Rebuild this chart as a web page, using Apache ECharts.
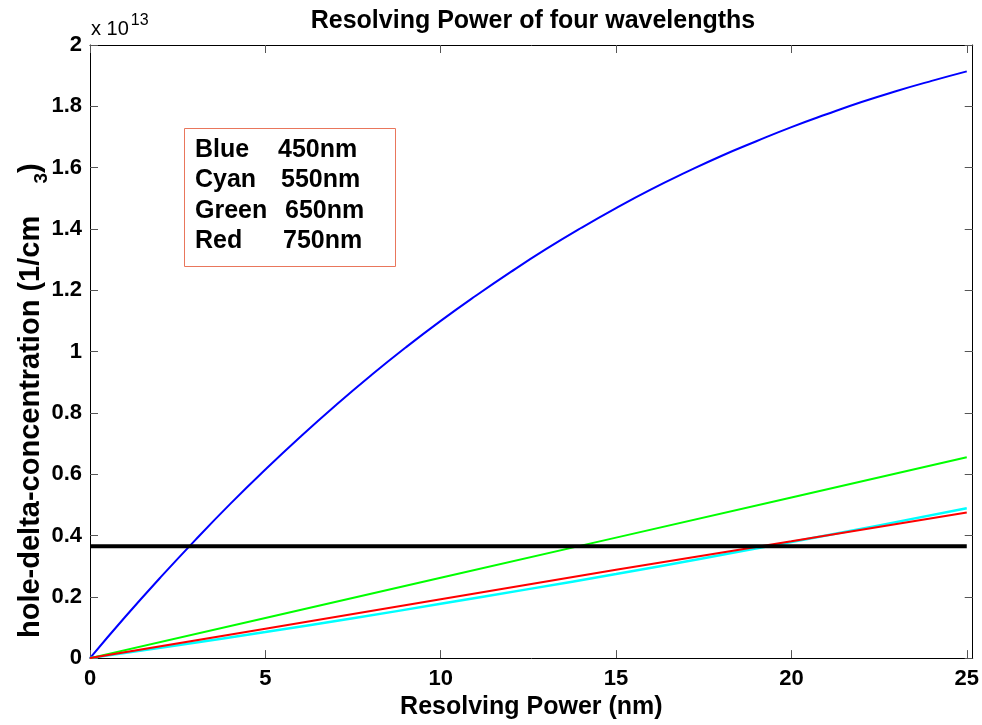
<!DOCTYPE html>
<html>
<head>
    <meta charset="utf-8">
    <title>Resolving Power of four wavelengths</title>
    <script src="https://cdn.jsdelivr.net/npm/echarts@6/dist/echarts.min.js"></script>
    <style>
        html, body { margin: 0; padding: 0; background: #fff; }
        #chart { width: 982px; height: 725px; }
    </style>
</head>
<body>
    <div id="chart"></div>
    <script type="text/javascript">
        // values in units of 1e13 (1/cm^3)
        var xBlue = [0, 1, 2, 3, 4, 5, 6, 7, 8, 9, 10, 11, 12, 13, 14, 15, 16, 17, 18, 19, 20, 21, 22, 23, 24, 25];
        var blue = [0, 0.134, 0.262, 0.385, 0.503, 0.615, 0.722, 0.824, 0.921, 1.013, 1.100, 1.182, 1.260,
                    1.334, 1.403, 1.468, 1.529, 1.585, 1.638, 1.686, 1.732, 1.774, 1.814, 1.850, 1.883, 1.914];
        var xCyan = [0, 2.5, 5, 7.5, 10, 12.5, 15, 17.5, 20, 22.5, 25];
        var cyan = [0, 0.042, 0.085, 0.130, 0.177, 0.225, 0.274, 0.326, 0.379, 0.433, 0.489];
        var xLin = [0, 5, 10, 15, 20, 25];
        var green = [0, 0.131, 0.262, 0.393, 0.524, 0.655];
        var red = [0, 0.096, 0.192, 0.288, 0.381, 0.475];
        var threshold = 0.365;
        var xTicks = [0, 5, 10, 15, 20, 25];
        var yTicks = [0, 0.2, 0.4, 0.6, 0.8, 1, 1.2, 1.4, 1.6, 1.8, 2];
        var legendNames = ['Blue', 'Cyan', 'Green', 'Red'];
        var legendWaves = ['450nm', '550nm', '650nm', '750nm'];

        function pairs(xs, ys) {
            return xs.map(function (x, i) { return [x, ys[i]]; });
        }

        var font = "'Liberation Sans', Arial, Helvetica, sans-serif";
        var waveLeft = [278, 281, 285, 283];
        var legendGraphics = [{
            type: 'rect',
            shape: { x: 184.5, y: 128.5, width: 211, height: 138 },
            style: { fill: '#fff', stroke: '#e9765c', lineWidth: 1 }
        }];
        legendNames.forEach(function (name, i) {
            var cy = 150 + i * 30.5;
            legendGraphics.push({
                type: 'text', x: 195, y: cy,
                style: { text: name, font: 'bold 25px ' + font, fill: '#000', verticalAlign: 'middle', textVerticalAlign: 'middle' }
            });
            legendGraphics.push({
                type: 'text', x: waveLeft[i], y: cy,
                style: { text: legendWaves[i], font: 'bold 25px ' + font, fill: '#000', verticalAlign: 'middle', textVerticalAlign: 'middle' }
            });
        });

        var tickStyle = { show: true, inside: true, length: 8, lineStyle: { color: '#555', width: 1 } };
        var lineAxis = { show: true, onZero: false, lineStyle: { color: '#000', width: 1 } };

        var myChart = echarts.init(document.getElementById('chart'));
        var option = {
            backgroundColor: '#fff',
            animation: false,
            title: {
                text: 'Resolving Power of four wavelengths',
                left: 528, top: 4, textAlign: 'center',
                textStyle: { fontFamily: font, fontSize: 25, fontWeight: 'bold', color: '#000' }
            },
            grid: { left: 90, right: 8, top: 45, bottom: 65 },
            xAxis: [{
                type: 'value', min: 0, max: 25.17, interval: 5,
                name: 'Resolving Power (nm)', nameLocation: 'middle', nameGap: 34,
                nameTextStyle: { fontFamily: font, fontSize: 25, fontWeight: 'bold', color: '#000' },
                axisLine: lineAxis,
                axisTick: Object.assign({ customValues: xTicks }, tickStyle),
                axisLabel: { customValues: xTicks, margin: 10, fontFamily: font, fontSize: 22, fontWeight: 'bold', color: '#000' },
                splitLine: { show: false }
            }, {
                type: 'value', min: 0, max: 25.17, interval: 5, position: 'top',
                axisLine: lineAxis,
                axisTick: Object.assign({ customValues: xTicks }, tickStyle),
                axisLabel: { show: false },
                splitLine: { show: false }
            }],
            yAxis: [{
                type: 'value', min: 0, max: 2, interval: 0.2,
                axisLine: lineAxis,
                axisTick: Object.assign({ customValues: yTicks }, tickStyle),
                axisLabel: { customValues: yTicks, margin: 8, fontFamily: font, fontSize: 22, fontWeight: 'bold', color: '#000' },
                splitLine: { show: false }
            }, {
                type: 'value', min: 0, max: 2, interval: 0.2, position: 'right',
                axisLine: lineAxis,
                axisTick: Object.assign({ customValues: yTicks }, tickStyle),
                axisLabel: { show: false },
                splitLine: { show: false }
            }],
            graphic: legendGraphics.concat([{
                type: 'text', x: 91, y: 25,
                style: {
                    text: '{a|x 10}{b|13}',
                    verticalAlign: 'middle', textVerticalAlign: 'middle',
                    rich: {
                        a: { font: '20px ' + font, fill: '#000', padding: [8, 0, 0, 0] },
                        b: { font: '16px ' + font, fill: '#000', padding: [0, 0, 8, 2] }
                    }
                }
            }, {
                type: 'text', x: 31, y: 638, rotation: Math.PI / 2,
                style: {
                    text: '{a|hole-delta-concentration (1/cm    }{b|3}{a|)}',
                    align: 'left', textAlign: 'left',
                    verticalAlign: 'middle', textVerticalAlign: 'middle',
                    rich: {
                        a: { font: 'bold 29px ' + font, fill: '#000' },
                        b: { font: 'bold 19px ' + font, fill: '#000', padding: [22, 0, 0, 0] }
                    }
                }
            }]),
            series: [{
                type: 'line', data: pairs(xBlue, blue), smooth: true, showSymbol: false,
                lineStyle: { color: '#0000ff', width: 2 }
            }, {
                type: 'line', data: pairs(xCyan, cyan), smooth: true, showSymbol: false,
                lineStyle: { color: '#00ffff', width: 2.5 }
            }, {
                type: 'line', data: pairs(xLin, green), showSymbol: false,
                lineStyle: { color: '#00ff00', width: 2 }
            }, {
                type: 'line', data: pairs(xLin, red), showSymbol: false,
                lineStyle: { color: '#ff0000', width: 2 }
            }, {
                type: 'line', data: [[0, threshold], [25, threshold]], showSymbol: false,
                lineStyle: { color: '#000', width: 4 }
            }]
        };
        myChart.setOption(option);
    </script>
</body>
</html>
